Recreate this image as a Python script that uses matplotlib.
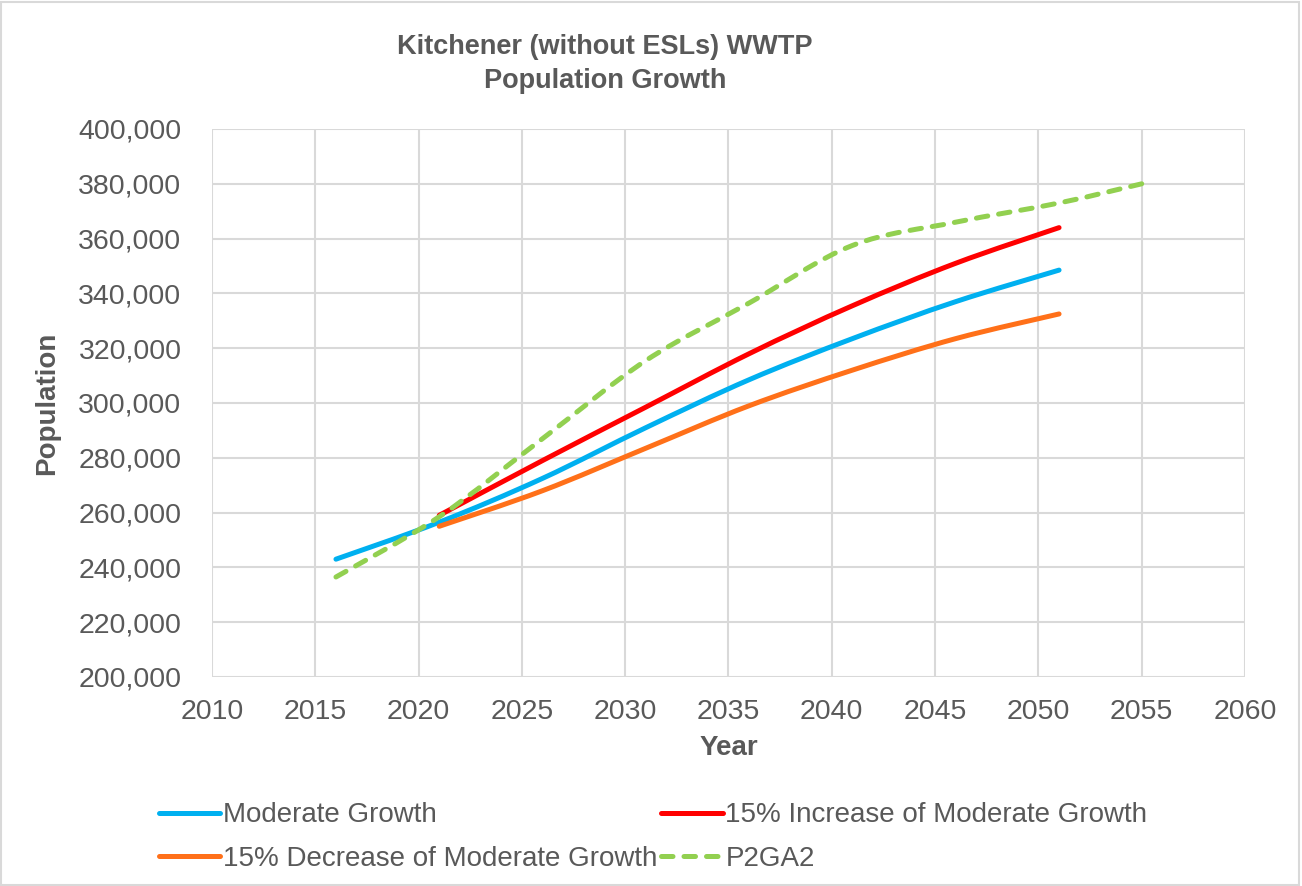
import matplotlib
matplotlib.use("Agg")
import matplotlib.pyplot as plt
import numpy as np
from matplotlib.path import Path
from matplotlib.patches import PathPatch, Rectangle
from matplotlib.lines import Line2D
from matplotlib.ticker import FuncFormatter, MultipleLocator

plt.rcParams['font.family'] = ['Liberation Sans', 'DejaVu Sans']

years_a = [2016, 2021, 2026, 2031, 2036, 2041, 2046, 2051]
moderate = [243000, 256500, 272500, 291000, 308500, 323500, 337000, 348500]

years_b = [2021, 2026, 2031, 2036, 2041, 2046, 2051]
increase = [259000, 279000, 298500, 318000, 335500, 351000, 364000]
decrease = [255000, 268000, 283500, 299000, 312000, 323500, 332500]

years_c = [2016, 2021, 2026, 2031, 2036, 2041, 2046, 2051, 2055]
p2ga2 = [236500, 258500, 287000, 315500, 336500, 357500, 366000, 373000, 380000]

labels = ["Moderate Growth", "15% Increase of Moderate Growth",
          "15% Decrease of Moderate Growth", "P2GA2"]
colors = ["#00B0F0", "#FF0000", "#FF7019", "#92D050"]

title = "Kitchener (without ESLs) WWTP\nPopulation Growth"
gray = "#595959"


def smooth_path(x, y, t=1/6):
    """Bezier path through points (Excel-like smoothing)."""
    x = np.asarray(x, float)
    y = np.asarray(y, float)
    n = len(x)
    verts = [(x[0], y[0])]
    codes = [Path.MOVETO]
    for i in range(n - 1):
        x0, y0 = (x[i - 1], y[i - 1]) if i > 0 else (x[i], y[i])
        x3, y3 = (x[i + 2], y[i + 2]) if i + 2 < n else (x[i + 1], y[i + 1])
        c1 = (x[i] + (x[i + 1] - x0) * t, y[i] + (y[i + 1] - y0) * t)
        c2 = (x[i + 1] - (x3 - x[i]) * t, y[i + 1] - (y3 - y[i]) * t)
        verts += [c1, c2, (x[i + 1], y[i + 1])]
        codes += [Path.CURVE4] * 3
    return Path(verts, codes)


fig = plt.figure(figsize=(13.02, 8.86), dpi=100)
ax = fig.add_axes([212/1302, 1 - 677/886, (1245-212)/1302, (677-129)/886])

dash = (0, (2.3, 2.2))
series = [(years_a, moderate, '-'), (years_b, increase, '-'),
          (years_b, decrease, '-'), (years_c, p2ga2, '--')]
handles = []
for (xs, ys, ls), c, lab in zip(series, colors, labels):
    p = PathPatch(smooth_path(xs, ys), facecolor='none', edgecolor=c, lw=3.6,
                  capstyle='round', joinstyle='round', zorder=3)
    if ls == '--':
        p.set_linestyle(dash)
        p.set_capstyle('round')
    ax.add_patch(p)
    h = Line2D([], [], color=c, lw=3.6, solid_capstyle='round',
               dash_capstyle='round',
               linestyle=('-' if ls == '-' else dash))
    handles.append(h)

ax.set_xlim(2010, 2060)
ax.set_ylim(200000, 400000)
ax.xaxis.set_major_locator(MultipleLocator(5))
ax.yaxis.set_major_locator(MultipleLocator(20000))
ax.yaxis.set_major_formatter(FuncFormatter(lambda v, p: f"{int(v):,}"))
ax.grid(True, color="#D9D9D9", lw=1.5, zorder=0)
ax.set_axisbelow(True)
for s in ax.spines.values():
    s.set_visible(False)
ax.tick_params(length=0, labelsize=20.5, labelcolor=gray)
ax.tick_params(axis='x', pad=16)
ax.tick_params(axis='y', pad=22)

ax.set_xlabel("Year", fontsize=20, fontweight='bold', color=gray, labelpad=7)
ax.set_ylabel("Population", fontsize=20, fontweight='bold', color=gray)
ax.yaxis.set_label_coords((60 - 212) / 1033, 0.5)

fig.text(605/1302, 1 - 64/886, title, ha='center', va='center',
         fontsize=19.5, fontweight='bold', color=gray, linespacing=1.4)

order = [0, 2, 1, 3]
leg = fig.legend([handles[i] for i in order], [labels[i] for i in order],
                 ncol=2, loc='center left', bbox_to_anchor=(134/1302, 1 - 837/886),
                 frameon=False, fontsize=20, handlelength=2.2, handletextpad=0.1,
                 columnspacing=0.15, labelspacing=0.62, labelcolor=gray)

fig.patches.append(Rectangle((0.001, 0.001), 0.997, 0.997, transform=fig.transFigure,
                             fill=False, edgecolor="#D9D9D9", lw=1.5))

fig.savefig("out.png", dpi=100)
